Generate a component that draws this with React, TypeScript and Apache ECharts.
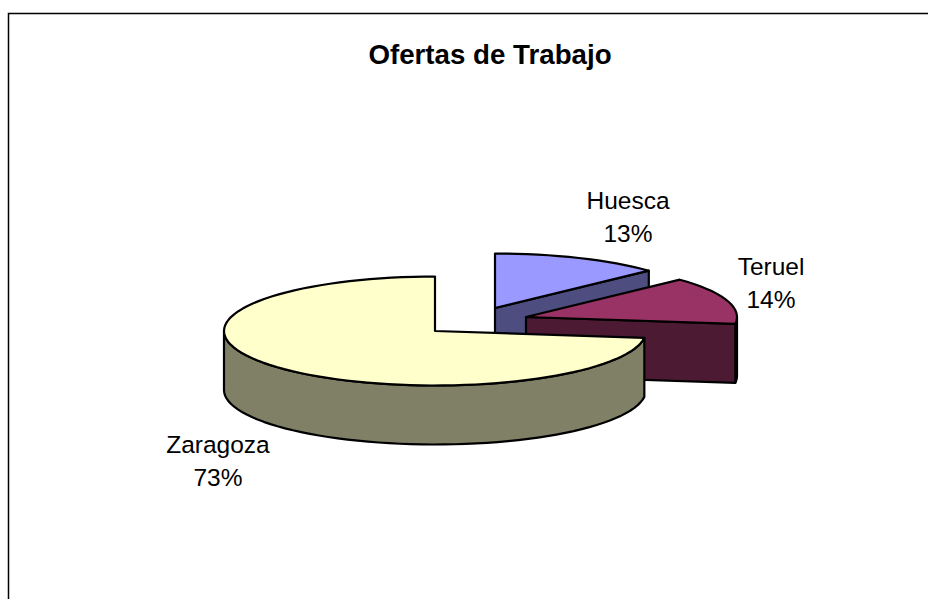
import React, { useEffect, useRef } from "react";
import * as echarts from "echarts";

const titleText = "Ofertas de Trabajo";
const categories = ["Huesca", "Teruel", "Zaragoza"];
const percents = [13, 14, 73];
const topColors = ["#9999FF", "#993366", "#FFFFCC"];
const sideColors = ["#4D4D80", "#4D1A33", "#808066"];

const RX = 211;
const RY = 54.5;
const DEPTH = 59;
const apexes = [[495, 308], [526, 317], [435, 331]];
const labelPos = [[628, 216.5], [771, 283], [218, 461]];

const pt = (c: number[], deg: number, dy = 0) => {
  const r = (deg * Math.PI) / 180;
  return [c[0] + RX * Math.sin(r), c[1] - RY * Math.cos(r) + dy];
};
const arc = (c: number[], a: number, b: number, dy = 0) => {
  const out: number[][] = [];
  const n = Math.max(2, Math.ceil(Math.abs(b - a) / 3));
  for (let i = 0; i <= n; i++) out.push(pt(c, a + ((b - a) * i) / n, dy));
  return out;
};

const renderItem = (params: any, api: any) => {
  const i = params.dataIndex;
  let start = 0;
  for (let k = 0; k < i; k++) start += percents[k];
  const a = (start / 100) * 360;
  const b = ((start + api.value(0)) / 100) * 360;
  const c = apexes[i];
  const line = { stroke: "#000", lineWidth: 2.2, lineJoin: "round" };
  const children: any[] = [];
  const poly = (points: number[][], fill: string) =>
    children.push({ type: "polygon", shape: { points }, style: { ...line, fill } });
  // outer wall, front half only
  const wallA = Math.max(a, 90);
  const wallB = Math.min(b, 270);
  if (wallB > wallA) {
    poly([...arc(c, wallA, wallB), ...arc(c, wallA, wallB, DEPTH).reverse()], sideColors[i]);
  }
  // radial face at the end of the slice, when it looks toward the viewer
  if (b < 180) {
    const e = pt(c, b);
    poly([c, e, [e[0], e[1] + DEPTH], [c[0], c[1] + DEPTH]], sideColors[i]);
  }
  poly([c, ...arc(c, a, b)], topColors[i]);
  children.push({
    type: "text",
    silent: true,
    style: {
      text: `${categories[i]}\n${api.value(0)}%`,
      x: labelPos[i][0],
      y: labelPos[i][1],
      align: "center",
      verticalAlign: "middle",
      fontFamily: "Liberation Sans",
      fontSize: 24.5,
      lineHeight: 33,
      fill: "#000",
    },
  });
  return { type: "group", children };
};

export default function App() {
  const ref = useRef<HTMLDivElement>(null);
  useEffect(() => {
    const chart = echarts.init(ref.current!, null, { renderer: "svg" });
    chart.setOption({
      animation: false,
      backgroundColor: "#fff",
      title: {
        text: titleText,
        left: 485,
        top: 35,
        textAlign: "center",
        textStyle: { fontFamily: "Liberation Sans", fontWeight: "bold", fontSize: 27.7, color: "#000" },
      },
      graphic: [
        {
          type: "rect",
          z: -1,
          shape: { x: 8.5, y: 13.5, width: 960, height: 640 },
          style: { fill: "#fff", stroke: "#000", lineWidth: 1.5 },
        },
      ],
      series: [
        {
          type: "custom",
          coordinateSystem: "none",
          renderItem,
          data: percents.map((v) => [v]),
          silent: true,
        },
      ],
    });
    return () => chart.dispose();
  }, []);
  return <div ref={ref} style={{ position: "fixed", left: 0, top: 0, width: 928, height: 599 }} />;
}
